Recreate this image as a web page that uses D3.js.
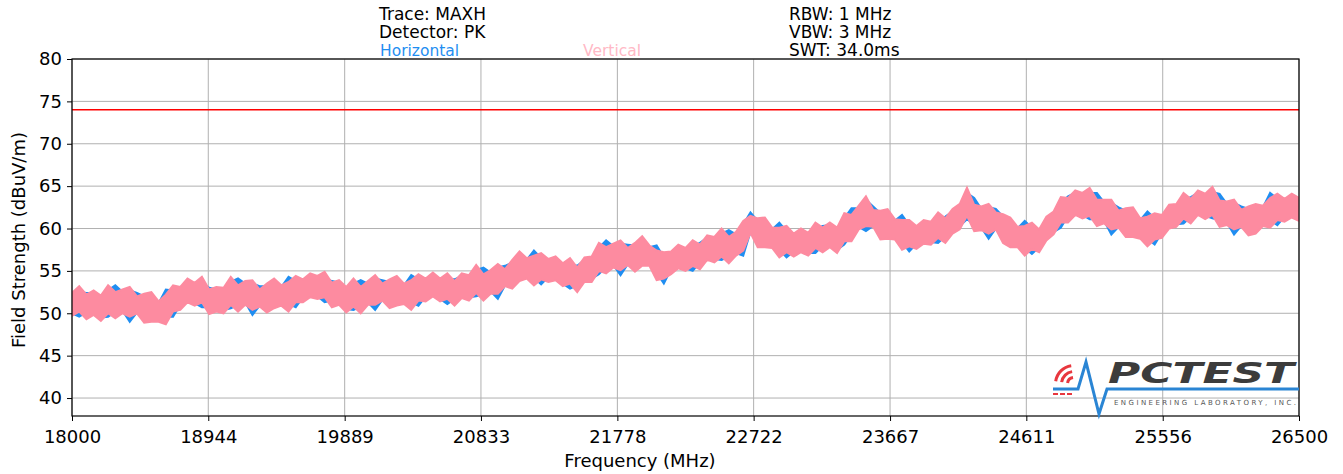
<!DOCTYPE html>
<html>
<head>
<meta charset="utf-8">
<script src="https://cdnjs.cloudflare.com/ajax/libs/d3/7.8.5/d3.min.js"></script>
<style>
  body { margin: 0; background: #fff; }
  svg { display: block; font-family: "DejaVu Sans", sans-serif; }
  .grid line { stroke: #b0b0b0; stroke-width: 1; }
</style>
</head>
<body>
<svg id="chart"></svg>
<script>
// frequency grid (MHz) of the trace envelopes, 50 MHz step
var freqs = d3.range(18000, 26501, 50);

// Vertical trace (pink), upper / lower envelope in dBuV/m
var vHigh = [52.4,53.2,52.2,52.7,52.1,53.3,52.5,52.8,53.1,52.0,52.3,52.5,51.4,52.2,53.3,53.1,54.1,
  53.6,54.3,52.8,53.1,53.0,54.3,53.3,53.8,53.9,52.8,53.5,54.1,53.3,53.7,54.4,54.0,54.7,
  54.4,54.9,53.6,53.9,53.1,54.1,53.1,53.8,54.5,53.5,54.0,54.4,53.5,53.9,54.6,54.1,54.8,
  54.1,54.7,53.8,54.7,54.5,55.7,54.6,55.1,55.8,55.2,56.3,57.3,56.5,56.8,57.1,56.4,56.7,
  55.9,56.5,55.4,56.6,56.7,58.3,57.8,58.2,58.6,57.7,58.3,59.1,58.0,57.4,57.2,57.3,58.1,
  57.7,58.6,58.1,59.2,59.0,60.0,59.0,59.6,60.9,61.5,61.2,61.3,60.1,60.1,60.3,59.4,60.0,
  59.5,60.7,60.1,60.7,60.1,61.8,61.6,62.7,63.8,62.2,62.1,62.3,61.1,61.0,61.0,60.3,61.0,
  60.8,61.9,61.2,62.3,62.9,64.8,62.8,62.6,62.9,61.9,61.7,61.3,60.2,60.3,60.7,59.9,61.4,
  62.0,63.7,63.6,64.5,64.2,64.8,63.4,63.4,63.4,62.1,62.4,62.5,61.2,61.4,61.8,61.6,62.8,
  62.9,64.2,63.5,64.5,64.1,64.9,63.3,63.2,63.4,62.2,62.6,62.9,62.7,63.6,64.1,63.5,64.1,63.6];
var vLow = [49.7,50.2,49.3,49.8,49.1,50.0,49.4,50.0,49.6,50.0,48.9,49.0,49.0,48.7,50.2,50.4,51.3,
  50.9,51.3,49.9,50.2,50.0,51.0,50.2,51.0,50.4,50.8,50.1,50.6,50.9,50.2,51.3,51.3,51.9,
  51.7,51.9,50.7,51.0,50.1,50.8,50.0,51.0,51.0,51.5,50.6,50.9,51.1,50.4,51.5,51.4,52.0,
  51.4,51.7,50.9,51.8,51.5,52.4,51.5,52.3,52.3,53.2,52.9,53.8,54.1,53.3,54.0,53.7,53.9,
  53.2,53.5,52.5,53.7,53.7,55.0,54.7,55.4,55.1,55.7,54.9,55.6,55.6,53.9,54.1,54.6,55.3,
  55.0,55.6,55.2,56.3,56.0,56.7,55.9,56.8,57.4,59.5,57.8,57.8,57.7,56.6,57.2,56.7,57.2,
  56.8,57.7,57.2,57.8,57.1,58.5,58.5,59.9,60.3,60.2,58.7,58.8,58.7,57.5,57.9,57.6,58.2,
  58.1,58.9,58.3,59.4,59.9,61.5,59.7,59.8,59.4,59.9,58.3,57.8,57.8,56.8,57.6,57.2,58.6,
  59.3,60.7,60.7,61.6,61.2,61.5,60.3,60.6,59.9,60.1,59.0,59.0,58.8,57.9,58.7,58.9,60.0,
  60.2,61.2,60.6,61.6,61.1,61.6,60.2,60.4,59.9,60.2,59.2,59.4,60.3,60.1,61.0,60.8,61.3,60.9];

// Horizontal trace (blue), upper / lower envelope in dBuV/m
var hHigh = [52.2,52.5,52.4,52.4,51.9,52.7,53.3,52.5,52.7,52.4,52.0,52.1,51.2,52.8,52.7,53.0,53.7,
  53.4,53.6,53.0,52.8,52.8,53.7,54.1,53.5,53.5,53.2,53.2,53.7,53.1,54.3,53.8,53.9,54.3,
  54.2,54.2,53.8,53.6,52.9,53.5,53.9,53.5,54.1,53.9,53.7,54.0,53.3,54.5,54.0,54.0,54.4,
  53.9,54.0,54.0,54.4,54.3,55.1,55.4,54.8,55.4,55.6,56.0,56.9,56.3,57.4,56.5,56.3,56.3,
  55.7,55.8,55.6,56.3,56.5,57.7,58.6,57.9,58.2,58.1,58.0,58.7,57.8,58.0,56.6,57.2,57.7,
  57.5,57.9,58.3,58.9,58.8,59.4,59.8,59.3,60.5,61.9,60.9,60.9,59.9,60.7,59.7,59.3,59.6,
  59.3,60.0,60.3,60.4,59.9,61.2,62.4,62.4,63.4,62.6,61.8,61.9,60.9,61.6,60.4,60.2,60.6,
  60.6,61.2,61.4,62.0,62.7,64.2,63.6,62.3,62.5,62.3,61.4,60.9,60.0,60.9,60.1,59.8,61.0,
  61.8,63.0,63.8,64.2,64.0,64.2,64.2,63.1,63.0,62.5,62.1,62.1,61.0,62.0,61.2,61.5,62.4,
  62.7,63.5,63.7,64.2,63.9,64.3,64.1,62.9,63.0,62.6,62.3,62.5,62.5,64.2,63.5,63.4,63.7,63.4];
var hLow = [50.0,49.6,50.1,50.0,49.5,49.6,50.2,50.3,49.0,50.1,49.6,49.2,49.2,49.6,49.6,51.0,51.4,
  51.2,50.7,50.7,50.4,50.4,50.6,51.0,51.3,49.8,50.9,50.8,50.8,51.1,51.1,50.7,51.9,52.0,
  52.0,51.3,51.5,51.2,50.5,50.4,50.8,51.3,50.4,51.6,51.3,51.1,51.3,51.3,50.9,52.0,52.1,
  51.7,51.1,51.7,52.0,51.9,52.0,52.3,52.6,51.7,53.3,53.6,54.0,54.3,54.2,53.4,54.3,54.0,
  53.5,52.9,53.3,53.9,54.1,54.6,55.5,55.7,54.5,55.8,55.6,55.8,55.8,54.8,53.5,55.2,55.4,
  55.3,55.0,56.0,56.5,56.4,56.3,56.7,57.1,56.8,59.6,58.5,58.0,57.9,57.5,56.6,57.3,57.3,
  57.1,57.1,58.0,58.0,57.5,58.1,59.3,60.2,59.7,60.3,59.4,59.0,58.9,58.4,57.3,58.2,58.3,
  58.4,58.3,59.1,59.6,60.3,61.1,60.5,60.1,58.8,60.0,59.0,58.0,58.0,57.7,57.0,57.8,58.7,
  59.6,60.1,61.5,61.8,61.6,61.1,61.1,60.9,59.3,60.2,59.7,59.2,59.0,58.8,58.1,59.5,60.1,
  60.5,60.6,61.4,61.8,61.5,61.2,61.0,60.7,59.3,60.3,59.9,59.6,60.5,61.0,60.4,61.4,61.4,61.2];

var limitLine = 74;
var yTicks = [40, 45, 50, 55, 60, 65, 70, 75, 80];
var xTicks = [18000, 18944, 19889, 20833, 21778, 22722, 23667, 24611, 25556, 26500];
var headerLeft = ["Trace: MAXH", "Detector: PK"];
var headerRight = ["RBW: 1 MHz", "VBW: 3 MHz", "SWT: 34.0ms"];
var legendNames = ["Horizontal", "Vertical"];
var blue = "#1f8ef1", pink = "#fd8ba0";

var W = 1343, H = 474;
var margin = {top: 59, right: 44, bottom: 58, left: 72};
var width = W - margin.left - margin.right,
    height = H - margin.top - margin.bottom;

var svg = d3.select("#chart").attr("width", W).attr("height", H);

var x = d3.scaleLinear().domain([18000, 26500]).range([0, width]);
var y = d3.scaleLinear().domain([37.88, 80]).range([height, 0]);

var plot = svg.append("g")
    .attr("transform", "translate(" + margin.left + "," + margin.top + ")");

// grid
plot.append("g").attr("class", "grid")
    .selectAll("line").data(xTicks).enter().append("line")
    .attr("x1", function(d){ return x(d); }).attr("x2", function(d){ return x(d); })
    .attr("y1", 0).attr("y2", height);
plot.append("g").attr("class", "grid")
    .selectAll("line").data(yTicks).enter().append("line")
    .attr("x1", 0).attr("x2", width)
    .attr("y1", function(d){ return y(d); }).attr("y2", function(d){ return y(d); });

plot.append("clipPath").attr("id", "clip")
    .append("rect").attr("width", width).attr("height", height);

var traces = plot.append("g").attr("clip-path", "url(#clip)");

var band = d3.area()
    .x(function(d){ return x(d.f); })
    .y0(function(d){ return y(d.lo); })
    .y1(function(d){ return y(d.hi); });

var hData = freqs.map(function(f, i){ return {f: f, lo: hLow[i], hi: hHigh[i]}; });
var vData = freqs.map(function(f, i){ return {f: f, lo: vLow[i], hi: vHigh[i]}; });

// thick mitred outline so the noise peaks come out sharp
traces.append("path").datum(hData)
    .attr("d", band)
    .attr("fill", blue).attr("stroke", blue).attr("stroke-width", 2)
    .attr("stroke-linejoin", "miter").attr("stroke-miterlimit", 6);

traces.append("path").datum(vData)
    .attr("d", band)
    .attr("fill", pink).attr("stroke", pink).attr("stroke-width", 2)
    .attr("stroke-linejoin", "miter").attr("stroke-miterlimit", 6);

// limit line
plot.append("line")
    .attr("x1", 0).attr("x2", width)
    .attr("y1", y(limitLine)).attr("y2", y(limitLine))
    .attr("stroke", "#ff0000").attr("stroke-width", 1.5);

// PCTEST watermark, sits over the bottom right of the plot
var logo = svg.append("g");
logo.append("path")
    .attr("d", "M1053,389 L1078,389 L1086,362 L1099,414 L1107,389 L" + (margin.left + width) + ",389")
    .attr("fill", "none").attr("stroke", "#2a85d4").attr("stroke-width", 3)
    .attr("stroke-linejoin", "miter");
[5, 11, 17].forEach(function(r){
  logo.append("path")
    .attr("d", d3.arc()({innerRadius: r, outerRadius: r + 3, startAngle: -Math.PI / 2 + 0.15, endAngle: -0.15}))
    .attr("transform", "translate(1074,384)")
    .attr("fill", "#e8373e");
});
[1053, 1060, 1067].forEach(function(dx){
  logo.append("rect").attr("x", dx).attr("y", 393).attr("width", 5).attr("height", 2).attr("fill", "#e8373e");
});
logo.append("text")
    .attr("x", 1108).attr("y", 383)
    .attr("font-size", 28).attr("font-weight", "bold").attr("font-style", "italic")
    .attr("textLength", 186).attr("lengthAdjust", "spacingAndGlyphs")
    .attr("fill", "#3c3c3c")
    .text("PCTEST");
logo.append("text")
    .attr("x", 1114).attr("y", 405)
    .attr("font-size", 7)
    .attr("textLength", 182).attr("lengthAdjust", "spacing")
    .attr("fill", "#555")
    .text("ENGINEERING LABORATORY, INC.");

// axes
var xAxis = d3.axisBottom(x).tickValues(xTicks).tickFormat(d3.format("d")).tickSize(5).tickPadding(9);
var yAxis = d3.axisLeft(y).tickValues(yTicks).tickSize(5).tickPadding(5);

var gx = plot.append("g").attr("transform", "translate(0," + height + ")").call(xAxis);
var gy = plot.append("g").call(yAxis);
[gx, gy].forEach(function(g){
  g.select(".domain").remove();
  g.selectAll("line").attr("stroke", "#000").attr("stroke-width", 1);
  g.selectAll("text").attr("font-size", 18).attr("fill", "#000")
    .attr("font-family", "'DejaVu Sans', sans-serif");
});

plot.append("rect")
    .attr("width", width).attr("height", height)
    .attr("fill", "none").attr("stroke", "#000").attr("stroke-width", 1.2);

// axis labels
svg.append("text")
    .attr("x", 640).attr("y", 467)
    .attr("text-anchor", "middle").attr("font-size", 18)
    .text("Frequency (MHz)");
svg.append("text")
    .attr("text-anchor", "middle").attr("font-size", 18)
    .attr("transform", "translate(25,240)rotate(-90)")
    .text("Field Strength (dBuV/m)");

// header
svg.selectAll("text.hl").data(headerLeft).enter().append("text")
    .attr("x", 379).attr("y", function(d, i){ return 20 + i * 18; })
    .attr("font-size", 17).text(function(d){ return d; });
svg.selectAll("text.hr").data(headerRight).enter().append("text")
    .attr("x", 789).attr("y", function(d, i){ return 20 + i * 18; })
    .attr("font-size", 17).text(function(d){ return d; });
svg.selectAll("text.lg").data(legendNames).enter().append("text")
    .attr("x", function(d, i){ return i ? 583 : 380; }).attr("y", 56)
    .attr("font-size", 15.5)
    .attr("fill", function(d, i){ return i ? "#ffb9c6" : blue; })
    .text(function(d){ return d; });
</script>
</body>
</html>
